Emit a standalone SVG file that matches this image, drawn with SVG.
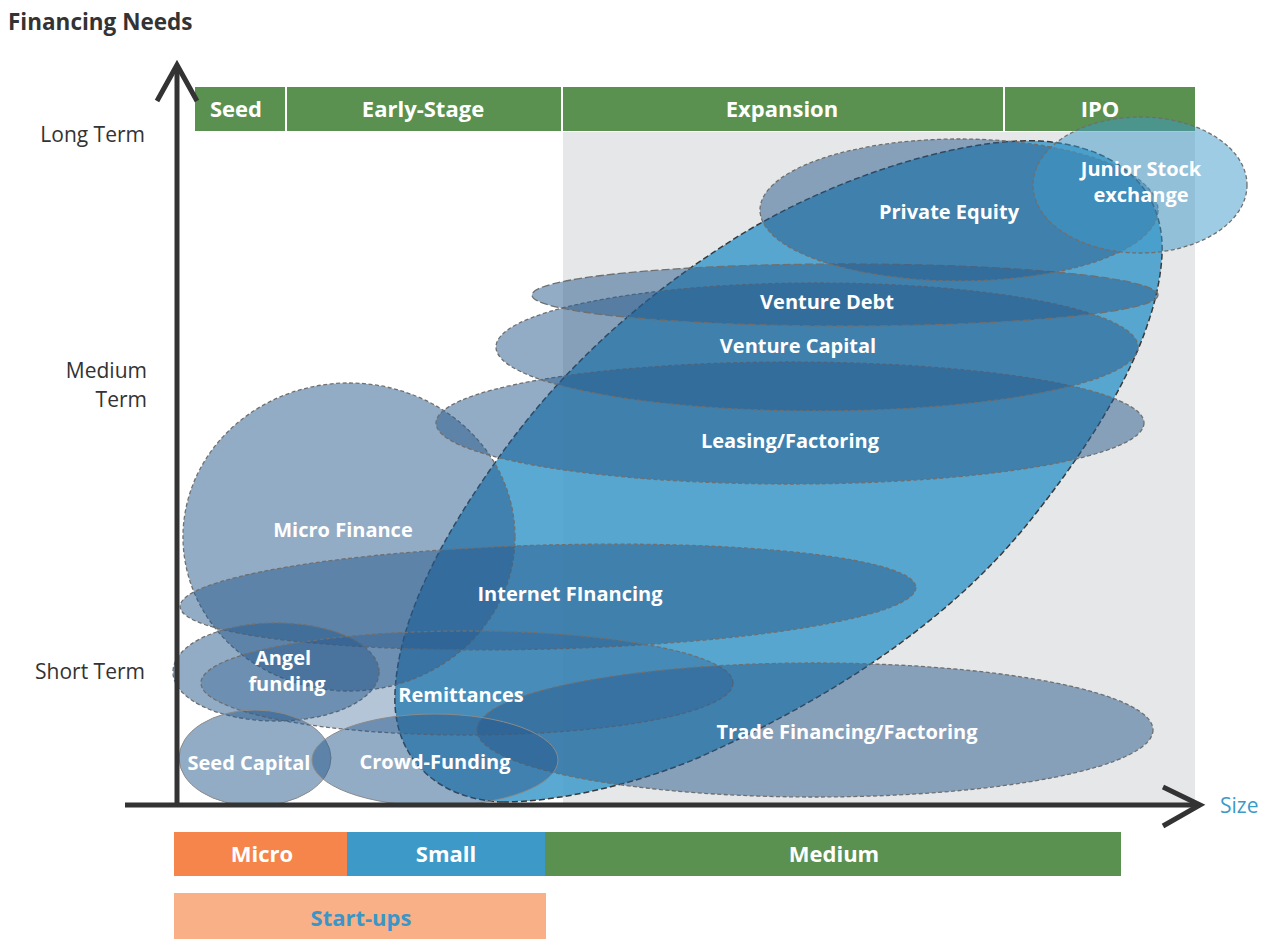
<svg xmlns="http://www.w3.org/2000/svg" width="1270" height="940" viewBox="0 0 1270 940">
<style>
.bub{fill:rgb(40,90,140);fill-opacity:0.5;stroke:#6f6f6f;stroke-width:1.3;stroke-dasharray:4 2.5}
.solid{stroke-dasharray:none;stroke:#8a8a8a;stroke-width:1}
.lbl{font-family:"Open Sans","Noto Sans",sans-serif;font-weight:bold;font-size:20px;fill:#fff;text-anchor:middle}
.bar{font-family:"Open Sans","Noto Sans",sans-serif;font-weight:bold;font-size:22px;fill:#fff;text-anchor:middle}
.ax{font-family:"Open Sans","Noto Sans",sans-serif;font-size:21px;fill:#333;text-anchor:end}
.axis{fill:none;stroke:#333;stroke-width:5}
</style>
<rect width="1270" height="940" fill="#fff"/>
<rect x="563" y="132" width="632" height="671" fill="#e6e7e9"/>
<g id="stages">
<rect x="195" y="87" width="1000" height="44" fill="#5a9150"/>
<g stroke="#fff" stroke-width="2"><line x1="286" y1="87" x2="286" y2="132"/><line x1="562" y1="87" x2="562" y2="132"/><line x1="1004" y1="87" x2="1004" y2="132"/></g>
<text class="bar" x="236" y="117">Seed</text>
<text class="bar" x="423" y="117">Early-Stage</text>
<text class="bar" x="782" y="117">Expansion</text>
<text class="bar" x="1100" y="117">IPO</text>
</g>
<g id="node-leaf">
<path d="M503 802 C440 800 392 760 395 693 C398 620 440 540 497 460 C560 370 640 300 717 250 C820 180 960 137 1040 141 C1120 146 1165 190 1162 255 C1158 330 1110 420 1033 517 C960 610 850 690 700 757 C640 783 560 802 503 802 Z" fill="#3d9aca" fill-opacity="0.85" stroke="#3a3a3a" stroke-width="1.5" stroke-dasharray="6 3"/>
</g>
<g id="node-micro-finance"><ellipse class="bub" cx="349" cy="537" rx="166" ry="154"/></g>
<g id="node-internet-financing"><ellipse class="bub" cx="548" cy="597" rx="368" ry="52" transform="rotate(-1.5 548 597)"/></g>
<g id="node-leasing"><ellipse class="bub" cx="790" cy="423" rx="354" ry="61"/></g>
<g id="node-venture-capital"><ellipse class="bub" cx="817" cy="347" rx="321" ry="64"/></g>
<g id="node-venture-debt"><ellipse class="bub" cx="845" cy="295" rx="313" ry="31" style="stroke-dasharray:8 3"/></g>
<g id="node-private-equity"><ellipse class="bub" cx="959" cy="210" rx="199" ry="71"/></g>
<g id="node-junior-stock"><ellipse class="bub" cx="1140" cy="185" rx="107" ry="68" style="fill:#3d9aca"/></g>
<g id="node-angel"><ellipse class="bub" cx="276" cy="672" rx="103" ry="49"/></g>
<g id="node-remittances"><ellipse class="bub" cx="467" cy="683" rx="266" ry="52" style="fill-opacity:0.35"/></g>
<g id="node-trade-financing"><ellipse class="bub" cx="815" cy="730" rx="338" ry="67"/></g>
<g id="node-seed-capital"><ellipse class="bub solid" cx="255" cy="758" rx="76" ry="48"/></g>
<g id="node-crowd-funding"><ellipse class="bub solid" cx="435" cy="760" rx="123" ry="46"/></g>
<g id="labels">
<text class="lbl" x="949" y="219">Private Equity</text>
<text class="lbl" x="1141" y="176">Junior Stock</text>
<text class="lbl" x="1141" y="202">exchange</text>
<text class="lbl" x="827" y="309">Venture Debt</text>
<text class="lbl" x="798" y="353">Venture Capital</text>
<text class="lbl" x="790" y="448">Leasing/Factoring</text>
<text class="lbl" x="343" y="537">Micro Finance</text>
<text class="lbl" x="570" y="601">Internet FInancing</text>
<text class="lbl" x="283" y="665">Angel</text>
<text class="lbl" x="287" y="691">funding</text>
<text class="lbl" x="461" y="702">Remittances</text>
<text class="lbl" x="847" y="739">Trade Financing/Factoring</text>
<text class="lbl" x="249" y="770">Seed Capital</text>
<text class="lbl" x="435" y="769">Crowd-Funding</text>
</g>
<g id="axes">
<line class="axis" x1="177" y1="66" x2="177" y2="807"/>
<polyline class="axis" points="157,101 177,65 197,101"/>
<line class="axis" x1="125" y1="805" x2="1200" y2="805"/>
<polyline class="axis" points="1163,787 1200,805 1163,826"/>
<text x="8" y="30" style="font-family:'Open Sans','Noto Sans',sans-serif;font-weight:bold;font-size:22.5px;fill:#333">Financing Needs</text>
<text class="ax" x="145" y="142">Long Term</text>
<text class="ax" x="147" y="378">Medium</text>
<text class="ax" x="147" y="407">Term</text>
<text class="ax" x="145" y="679">Short Term</text>
<text x="1220" y="813" style="font-family:'Open Sans','Noto Sans',sans-serif;font-size:21px;fill:#3c9ac9">Size</text>
</g>
<g id="sizes">
<rect x="174" y="832" width="173" height="44" fill="#f5854a"/>
<rect x="347" y="832" width="198" height="44" fill="#3d9ac8"/>
<rect x="545" y="832" width="576" height="44" fill="#5a9150"/>
<text class="bar" x="262" y="862">Micro</text>
<text class="bar" x="446" y="862">Small</text>
<text class="bar" x="834" y="862">Medium</text>
<rect x="174" y="893" width="372" height="46" fill="#f9b087"/>
<text class="bar" x="361" y="926" style="fill:#3a96c8">Start-ups</text>
</g>
</svg>
